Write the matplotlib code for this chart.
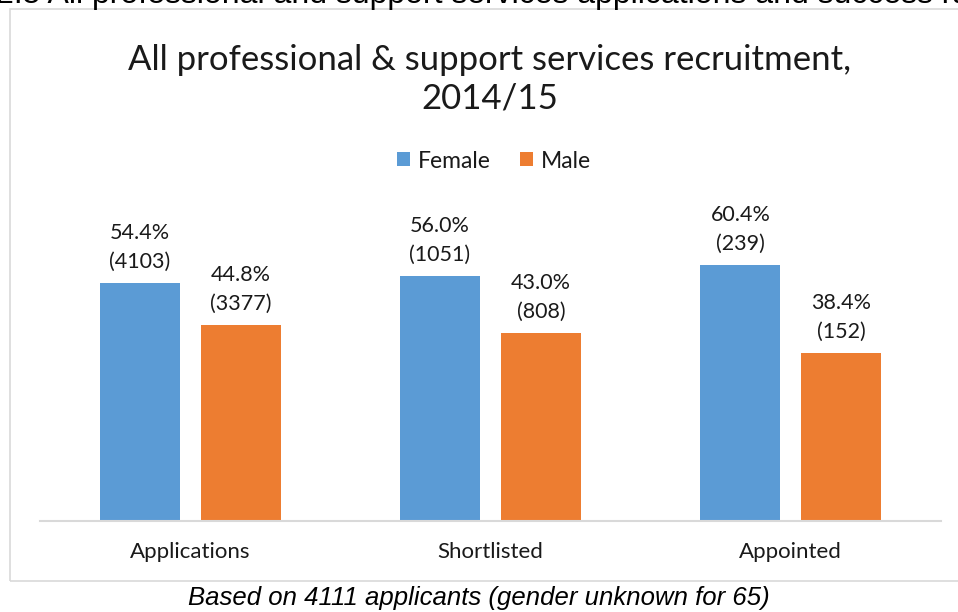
import matplotlib.pyplot as plt
from matplotlib.patches import Rectangle

# data
categories = ['Applications', 'Shortlisted', 'Appointed']
female_pct = [54.4, 56.0, 58.5]   # bar heights as drawn
male_pct = [44.8, 43.0, 38.4]
female_labels = ['54.4%\n(4103)', '56.0%\n(1051)', '60.4%\n(239)']
male_labels = ['44.8%\n(3377)', '43.0%\n(808)', '38.4%\n(152)']

blue = '#5B9BD5'
orange = '#ED7D31'
txt = '#1a1a1a'
font = 'Lato'

fig = plt.figure(figsize=(9.58, 6.12), dpi=100)
W, H = 958, 612

# chart frame (right side runs past the edge)
fig.patches.append(Rectangle((10 / W, (H - 581) / H), 960 / W, 572 / H,
                             transform=fig.transFigure, fill=False,
                             edgecolor='#d9d9d9', linewidth=1.2))

ax = fig.add_axes([40 / W, (H - 521) / H, 901 / W, 306 / H])
x = list(range(len(categories)))
off = 0.168
bw = 0.267
fb = ax.bar([i - off for i in x], female_pct, bw, color=blue, label='Female')
mb = ax.bar([i + off for i in x], male_pct, bw, color=orange, label='Male')

for bars, labs in ((fb, female_labels), (mb, male_labels)):
    for b, lab in zip(bars, labs):
        ax.annotate(lab, (b.get_x() + b.get_width() / 2, b.get_height()),
                    xytext=(0, 8), textcoords='offset points',
                    ha='center', va='bottom', fontsize=15.5,
                    family=font, color=txt, linespacing=1.55)

ax.set_xlim(-0.5, 2.5)
ax.set_ylim(0, 306 / 4.375)
ax.set_xticks(x)
ax.set_xticklabels(categories, family=font, fontsize=16, color=txt)
ax.tick_params(axis='x', length=0, pad=15)
ax.set_yticks([])
for s in ['top', 'right', 'left']:
    ax.spines[s].set_visible(False)
ax.spines['bottom'].set_color('#d9d9d9')
ax.spines['bottom'].set_linewidth(1.5)

fig.text(490 / W, 1 - 79 / H, 'All professional & support services recruitment,\n2014/15',
         ha='center', va='center', fontsize=25, family=font, color=txt,
         linespacing=1.25)

leg = fig.legend(handles=[fb, mb], loc='center', bbox_to_anchor=(494 / W, 1 - 161 / H),
                 ncol=2, frameon=False, prop={'family': font, 'size': 16.5},
                 handlelength=0.55, handleheight=0.55, handletextpad=0.35,
                 columnspacing=1.3)
for t in leg.get_texts():
    t.set_color(txt)

fig.text(479 / W, 1 - 598 / H, 'Based on 4111 applicants (gender unknown for 65)',
         ha='center', va='center', fontsize=18.5, style='italic',
         family='Liberation Sans', color='black')

# heading of the page, cut by the top edge as in the source
fig.text(-4 / W, 1 - 3 / H,
         '2.5 All professional and support services applications and success rates',
         ha='left', va='baseline', fontsize=23, family='Liberation Sans', color='black')

fig.savefig('out.png', dpi=100)
